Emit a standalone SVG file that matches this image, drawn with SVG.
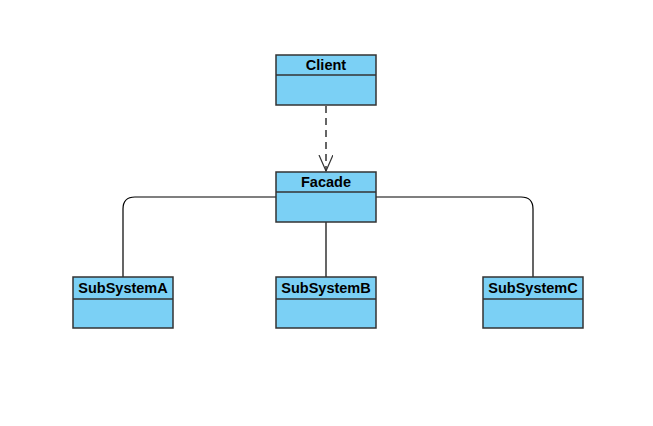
<svg xmlns="http://www.w3.org/2000/svg" width="653" height="426" viewBox="0 0 653 426">
  <style>
    .box { fill: #7bd0f5; stroke: #333; stroke-width: 1.5; }
    .div { stroke: #333; stroke-width: 1.5; }
    .title { font-family: "Liberation Sans", Arial, sans-serif; font-size: 14.5px; font-weight: bold; fill: #000; text-anchor: middle; }
    .edge { fill: none; stroke: #000; stroke-width: 1.2; }
    .dash { fill: none; stroke: #333; stroke-width: 1.5; stroke-dasharray: 7 5; }
  </style>
  <defs>
    <marker id="open" markerWidth="18" markerHeight="16" refX="16" refY="7" orient="auto" markerUnits="userSpaceOnUse">
      <path d="M0,0 L16,7 L0,14" fill="none" stroke="#333" stroke-width="1.2"/>
    </marker>
  </defs>
  <rect width="653" height="426" fill="#fff"/>

  <g id="connectors">
    <path class="dash" d="M326,106 L326,171" marker-end="url(#open)"/>
    <path class="edge" d="M276,197 L135,197 Q123,197 123,209 L123,277"/>
    <path class="edge" d="M326,222 L326,277"/>
    <path class="edge" d="M376,197 L521,197 Q533,197 533,209 L533,277"/>
  </g>

  <g id="client">
    <rect class="box" x="276" y="55" width="100" height="50"/>
    <line class="div" x1="276" y1="75" x2="376" y2="75"/>
    <text class="title" x="326" y="70">Client</text>
  </g>
  <g id="facade">
    <rect class="box" x="276" y="172" width="100" height="50"/>
    <line class="div" x1="276" y1="192" x2="376" y2="192"/>
    <text class="title" x="326" y="187">Facade</text>
  </g>
  <g id="subsystemA">
    <rect class="box" x="73" y="277" width="100" height="51"/>
    <line class="div" x1="73" y1="299" x2="173" y2="299"/>
    <text class="title" x="123" y="293">SubSystemA</text>
  </g>
  <g id="subsystemB">
    <rect class="box" x="276" y="277" width="100" height="51"/>
    <line class="div" x1="276" y1="299" x2="376" y2="299"/>
    <text class="title" x="326" y="293">SubSystemB</text>
  </g>
  <g id="subsystemC">
    <rect class="box" x="483" y="277" width="100" height="51"/>
    <line class="div" x1="483" y1="299" x2="583" y2="299"/>
    <text class="title" x="533" y="293">SubSystemC</text>
  </g>
</svg>
